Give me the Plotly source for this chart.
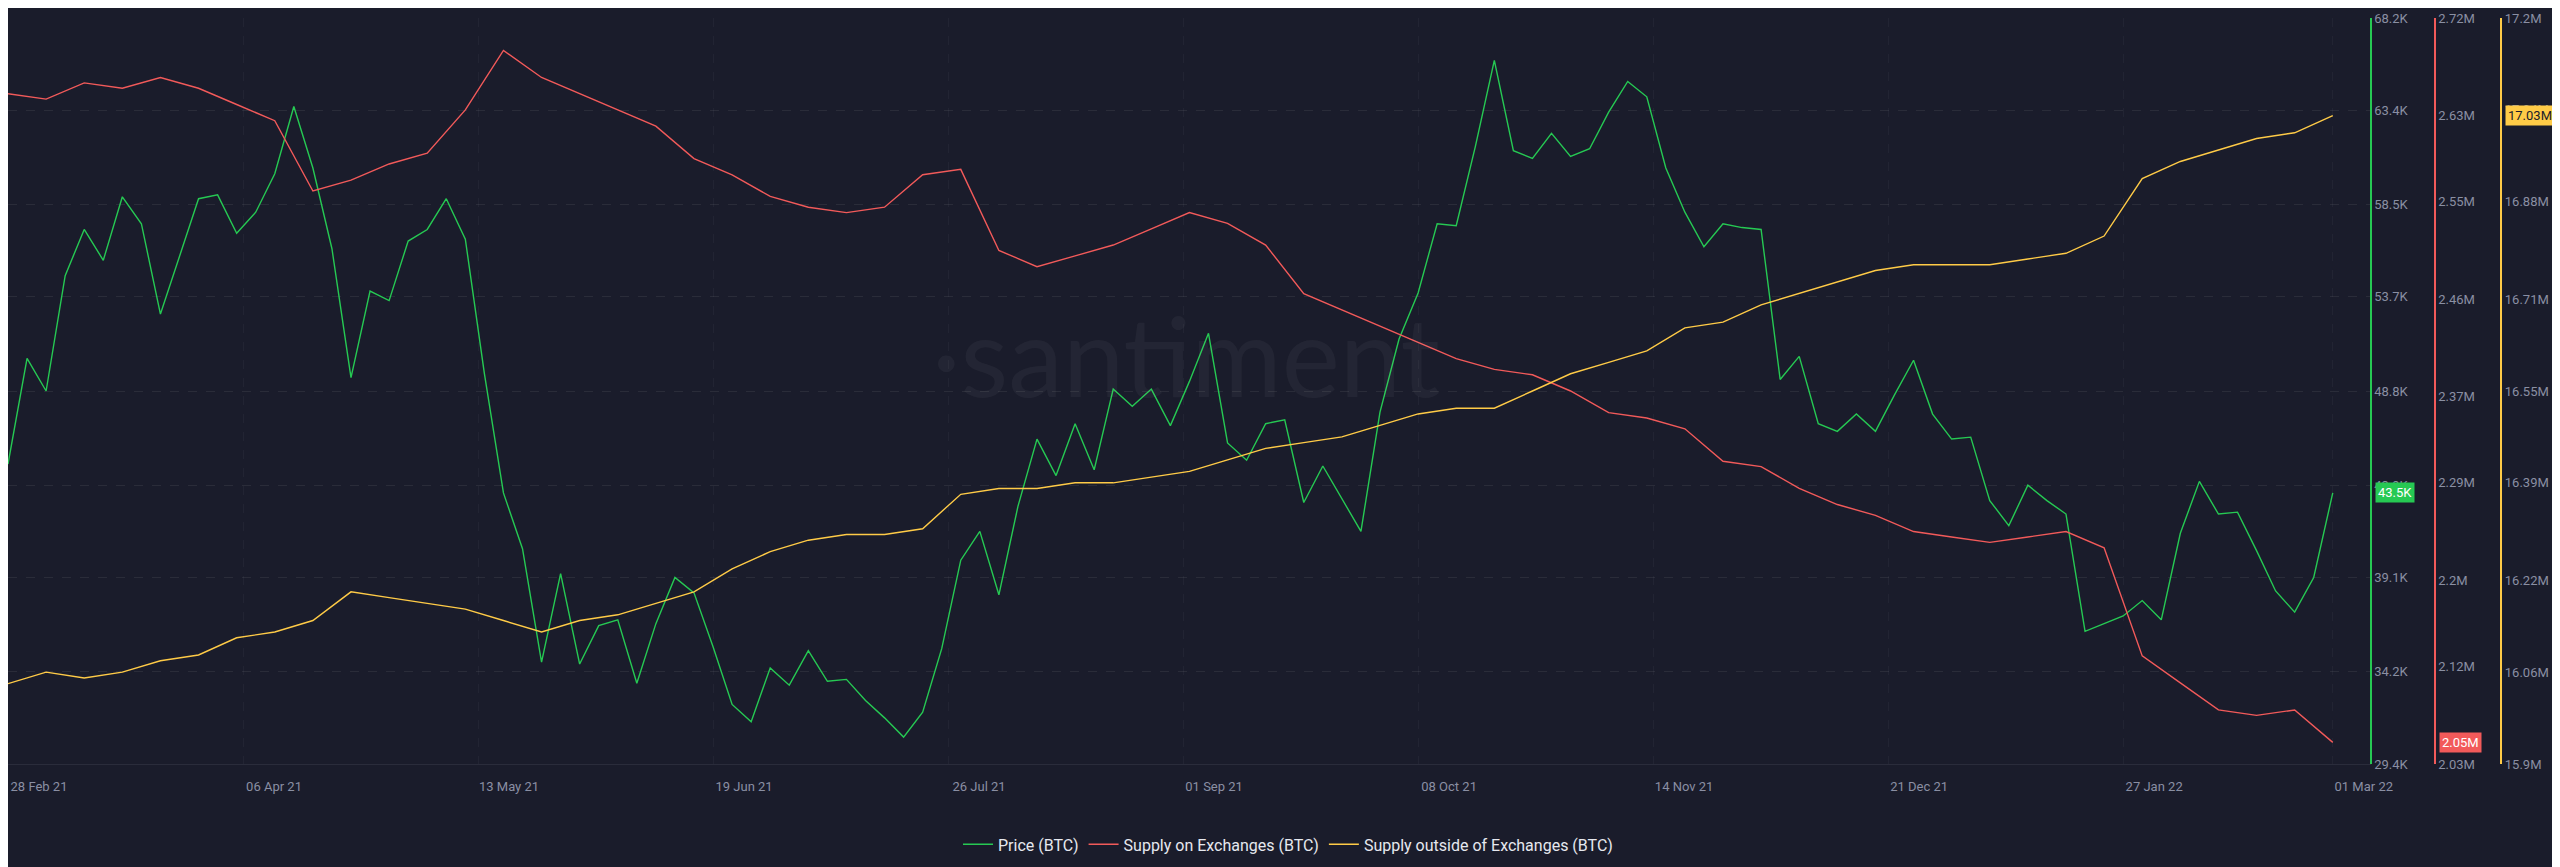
import pandas as pd
import plotly.graph_objects as go

# price, every 3 days from 28 Feb 21 (K USD)
price_k = [
    45.0, 50.5, 48.8, 54.8, 57.2, 55.6, 58.9, 57.5, 52.8, 55.8,
    58.8, 59.0, 57.0, 58.1, 60.1, 63.6, 60.4, 56.2, 49.5, 54.0,
    53.5, 56.6, 57.2, 58.8, 56.7, 49.7, 43.5, 40.6, 34.7, 39.3,
    34.6, 36.6, 36.9, 33.6, 36.7, 39.1, 38.3, 35.5, 32.5, 31.6,
    34.4, 33.5, 35.3, 33.7, 33.8, 32.7, 31.8, 30.8, 32.1, 35.4,
    40.0, 41.5, 38.2, 42.8, 46.3, 44.4, 47.1, 44.7, 48.9, 48.0,
    48.9, 47.0, 49.3, 51.8, 46.1, 45.2, 47.1, 47.3, 43.0, 44.9,
    43.2, 41.5, 47.7, 51.5, 53.9, 57.5, 57.4, 61.5, 66.0, 61.3,
    60.9, 62.2, 61.0, 61.4, 63.3, 64.9, 64.1, 60.4, 58.1, 56.3,
    57.5, 57.3, 57.2, 49.4, 50.6, 47.1, 46.7, 47.6, 46.7, 48.6,
    50.4, 47.6, 46.3, 46.4, 43.1, 41.8, 43.9, 43.1, 42.4, 36.3,
    36.7, 37.1, 37.9, 36.9, 41.4, 44.1, 42.4, 42.5, 40.5, 38.4,
    37.3, 39.1, 43.5,
]

# supplies, every 6 days (M BTC)
supply_on = [
    2.650, 2.645, 2.660, 2.655, 2.665, 2.655, 2.640, 2.625, 2.560, 2.570,
    2.585, 2.595, 2.635, 2.690, 2.665, 2.650, 2.635, 2.620, 2.590, 2.575,
    2.555, 2.545, 2.540, 2.545, 2.575, 2.580, 2.505, 2.490, 2.500, 2.510,
    2.525, 2.540, 2.530, 2.510, 2.465, 2.450, 2.435, 2.420, 2.405, 2.395,
    2.390, 2.375, 2.355, 2.350, 2.340, 2.310, 2.305, 2.285, 2.270, 2.260,
    2.245, 2.240, 2.235, 2.240, 2.245, 2.230, 2.130, 2.105, 2.080, 2.075,
    2.080, 2.050,
]
supply_off = [
    16.04, 16.06, 16.05, 16.06, 16.08, 16.09, 16.12, 16.13, 16.15, 16.20,
    16.19, 16.18, 16.17, 16.15, 16.13, 16.15, 16.16, 16.18, 16.20, 16.24,
    16.27, 16.29, 16.30, 16.30, 16.31, 16.37, 16.38, 16.38, 16.39, 16.39,
    16.40, 16.41, 16.43, 16.45, 16.46, 16.47, 16.49, 16.51, 16.52, 16.52,
    16.55, 16.58, 16.60, 16.62, 16.66, 16.67, 16.70, 16.72, 16.74, 16.76,
    16.77, 16.77, 16.77, 16.78, 16.79, 16.82, 16.92, 16.95, 16.97, 16.99,
    17.00, 17.03,
]

price_ticks = [29.4, 34.2, 39.1, 43.9, 48.8, 53.7, 58.5, 63.4, 68.2]
on_ticks = [2.03, 2.12, 2.2, 2.29, 2.37, 2.46, 2.55, 2.63, 2.72]
off_ticks = [15.9, 16.06, 16.22, 16.39, 16.55, 16.71, 16.88, 17.04, 17.2]
x_ticks = ["2021-02-28", "2021-04-06", "2021-05-13", "2021-06-19", "2021-07-26", "2021-09-01",
           "2021-10-08", "2021-11-14", "2021-12-21", "2022-01-27", "2022-03-01"]

d3 = pd.date_range("2021-02-28", periods=len(price_k), freq="3D")
d6 = pd.date_range("2021-02-28", periods=len(supply_on), freq="6D")

GREEN, RED, YELLOW = "#26c953", "#f25a5a", "#ffcb47"
BG = "#1a1c2b"
TICK = "#8a8fa3"

fig = go.Figure()
fig.add_trace(go.Scatter(x=d3, y=[v * 1000 for v in price_k], name="Price (BTC)",
                         line=dict(color=GREEN, width=1.4), yaxis="y"))
fig.add_trace(go.Scatter(x=d6, y=[v * 1e6 for v in supply_on], name="Supply on Exchanges (BTC)",
                         line=dict(color=RED, width=1.4), yaxis="y2"))
fig.add_trace(go.Scatter(x=d6, y=[v * 1e6 for v in supply_off], name="Supply outside of Exchanges (BTC)",
                         line=dict(color=YELLOW, width=1.4), yaxis="y3"))

def yax(ticks, fmt, color, pos, overlay=None, grid=False):
    d = dict(range=[ticks[0] * fmt[1], ticks[-1] * fmt[1]],
             tickvals=[t * fmt[1] for t in ticks],
             ticktext=[f"{t:g}{fmt[0]}" for t in ticks],
             side="right", anchor="free", position=pos, automargin=False,
             showline=True, linecolor=color, linewidth=1.5,
             tickfont=dict(color=TICK, size=13, family="Roboto"),
             showgrid=grid, gridcolor="rgba(255,255,255,0.07)", griddash="dash",
             zeroline=False, ticks="")
    if overlay:
        d["overlaying"] = overlay
    return d

fig.update_layout(
    width=2560, height=867,
    paper_bgcolor=BG, plot_bgcolor=BG,
    margin=dict(l=0, r=0, t=10, b=111, autoexpand=False),
    xaxis=dict(domain=[0, 0.923], range=["2021-02-28", "2022-03-07"],
               tickvals=x_ticks, automargin=False,
               ticktext=[pd.Timestamp(t).strftime("%d %b %y") for t in x_ticks],
               ticklabelshift=31, ticklabelstandoff=10,
               tickfont=dict(color=TICK, size=13, family="Roboto"),
               showgrid=True, gridcolor="rgba(255,255,255,0.04)", griddash="dash",
               zeroline=False, showline=True, linecolor="#2a2c3b"),
    yaxis=yax(price_ticks, ("K", 1000), GREEN, 0.923, grid=True),
    yaxis2=yax(on_ticks, ("M", 1e6), RED, 0.948, overlay="y"),
    yaxis3=yax(off_ticks, ("M", 1e6), YELLOW, 0.974, overlay="y"),
    legend=dict(orientation="h", x=0.5, xanchor="center", y=-0.085, yanchor="top",
                font=dict(color="#e6e8ef", size=16, family="Roboto"),
                bgcolor="rgba(0,0,0,0)"),
    showlegend=True,
)

fig.add_annotation(text="·santiment", x=0.46, y=0.55, xref="paper", yref="paper",
                   showarrow=False, font=dict(size=110, color="rgba(255,255,255,0.045)", family="Lato"))

for val, ref, pos, col, lab, fc in [
    (price_k[-1] * 1000, "y", 0.9245, GREEN, f"{price_k[-1]:g}K", "white"),
    (supply_on[-1] * 1e6, "y2", 0.9495, RED, f"{supply_on[-1]:.2f}M", "white"),
    (supply_off[-1] * 1e6, "y3", 0.9755, YELLOW, f"{supply_off[-1]:.2f}M", "#1a1c2b"),
]:
    fig.add_annotation(text=lab, x=pos, y=val, xref="paper", yref=ref, xanchor="left",
                       showarrow=False, bgcolor=col, borderpad=2,
                       font=dict(color=fc, size=13, family="Roboto"))

fig.write_html("out.html")
